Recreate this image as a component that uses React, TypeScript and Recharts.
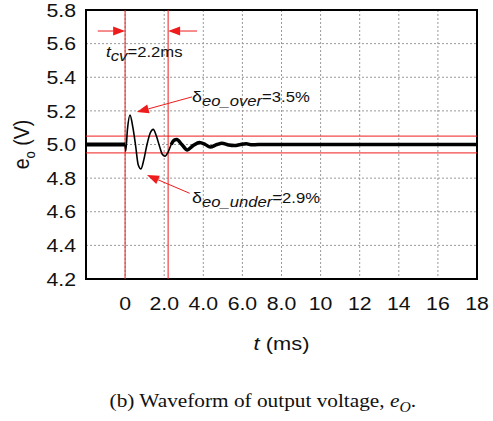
import {
  LineChart,
  Line,
  XAxis,
  YAxis,
  CartesianGrid,
  ReferenceLine,
  ReferenceArea,
  ReferenceDot,
} from "recharts";

// nominal output and the settling figures printed on the plot
const nominal = 5.0;
const overPct = 3.5;
const underPct = 2.9;
const tcv = 2.2;
const bandLow = 4.95;
const bandHigh = 5.05;

const peak = +(nominal * (1 + overPct / 100)).toFixed(3);
const trough = +(nominal * (1 - underPct / 100)).toFixed(3);

// steady state before the load step
const preT = [-2, 0];
const preV = [5.0, 5.0];

// first ringing cycles (thin trace)
const ringT = [0, 0.03, 0.12, 0.25, 0.4, 0.53, 0.67, 0.81, 0.96, 1.12, 1.29, 1.44, 1.6, 1.76, 1.91, 2.04, 2.2, 2.36, 2.5, 2.64];
const ringV = [5.0, 4.96, 5.09, peak, 5.1, 5.0, 4.88, trough, 4.91, 5.0, 5.07, 5.09, 5.05, 4.99, 4.94, 4.93, 4.955, 5.0, 5.025, 5.03];

// decaying tail back to steady state (thick trace)
const tailT = [2.36, 2.5, 2.64, 2.9, 3.18, 3.5, 3.8, 4.1, 4.35, 4.7, 4.95, 5.3, 5.6, 5.9, 6.2, 6.5, 6.8, 7.2, 18];
const tailV = [5.0, 5.025, 5.03, 5.0, 4.968, 4.995, 5.012, 5.0, 4.985, 5.0, 5.008, 4.997, 4.994, 5.0, 5.004, 4.998, 5.0, 5.0, 5.0];

const xTicks = [-2, 0, 2, 4, 6, 8, 10, 12, 14, 16, 18];
const yTicks = [4.2, 4.4, 4.6, 4.8, 5.0, 5.2, 5.4, 5.6, 5.8];

const zip = (t: number[], v: number[]) => t.map((x, i) => ({ t: x, v: v[i] }));
const preData = zip(preT, preV);
const ringData = zip(ringT, ringV);
const tailData = zip(tailT, tailV);

const RED = "#ee1c1c";
const FONT = "'Liberation Sans', Arial, sans-serif";
const SX = 1.15; // text in this figure is drawn a bit wide

const fmtX = (v: number) => (v < 0 ? "" : v === 0 ? "0" : v < 10 ? v.toFixed(1) : String(v));

function XTick({ x, y, payload }: any) {
  return (
    <g transform={`translate(${x},${y}) scale(${SX},1)`}>
      <text x={0} y={29.5} textAnchor="middle" fontSize={18.5} fontFamily={FONT} fill="#111">
        {fmtX(payload.value)}
      </text>
    </g>
  );
}

function YTick({ x, y, payload }: any) {
  return (
    <g transform={`translate(${x},${y}) scale(${SX},1)`}>
      <text x={0} y={0} dy="0.36em" textAnchor="end" fontSize={18.5} fontFamily={FONT} fill="#111">
        {payload.value.toFixed(1)}
      </text>
    </g>
  );
}

function Arrow({ x1, y1, x2, y2 }: any) {
  const dx = x2 - x1;
  const dy = y2 - y1;
  const len = Math.hypot(dx, dy) || 1;
  const ux = dx / len;
  const uy = dy / len;
  const hl = 12;
  const hw = 4.5;
  const bx = x2 - ux * hl;
  const by = y2 - uy * hl;
  const pts = `${x2},${y2} ${bx - uy * hw},${by + ux * hw} ${bx + uy * hw},${by - ux * hw}`;
  return (
    <g>
      <line x1={x1} y1={y1} x2={bx} y2={by} stroke={RED} strokeWidth={1} />
      <polygon points={pts} fill={RED} />
    </g>
  );
}

function noteShape(lead: string, sub: string, tail: string, leadItalic: boolean) {
  return ({ cx, cy }: any) => (
    <g transform={`translate(${cx},${cy}) scale(${SX},1)`}>
      <text x={0} y={0} fontSize={14.5} fontFamily={FONT} fill="#111">
        <tspan fontStyle={leadItalic ? "italic" : "normal"} fontSize={leadItalic ? 15 : 15.5}>
          {lead}
        </tspan>
        <tspan fontStyle="italic" dy={4}>
          {sub}
        </tspan>
        <tspan dy={-4}>{tail}</tspan>
      </text>
    </g>
  );
}

function XLabel({ viewBox }: any) {
  const cx = viewBox.x + viewBox.width / 2;
  return (
    <g transform={`translate(${cx},350) scale(${SX},1)`}>
      <text x={0} y={0} textAnchor="middle" fontSize={19} fontFamily={FONT} fill="#111">
        <tspan fontStyle="italic">t</tspan> (ms)
      </text>
    </g>
  );
}

function YLabel({ viewBox }: any) {
  const cy = viewBox.y + viewBox.height / 2;
  return (
    <g transform={`translate(29,${cy}) rotate(-90) scale(1,${SX})`}>
      <text x={0} y={0} textAnchor="middle" fontSize={19.5} fontFamily={FONT} fill="#111">
        e<tspan fontSize={13} dy={5}>o</tspan>
        <tspan dy={-5}> (V)</tspan>
      </text>
    </g>
  );
}

export default function App() {
  return (
    <div style={{ position: "absolute", left: 0, top: 0, width: 493, height: 421, background: "#fff" }}>
      <LineChart width={493} height={421} margin={{ top: 10, right: 16, left: 10, bottom: 102 }}>
        <CartesianGrid stroke="#999" strokeDasharray="2 2" strokeWidth={1} />
        <XAxis
          dataKey="t"
          type="number"
          domain={[-2, 18]}
          ticks={xTicks}
          interval={0}
          allowDataOverflow
          axisLine={false}
          tickLine={false}
          tickSize={0}
          tick={<XTick />}
          height={40}
          label={<XLabel />}
        />
        <YAxis
          type="number"
          domain={[4.2, 5.8]}
          ticks={yTicks}
          interval={0}
          allowDataOverflow
          axisLine={false}
          tickLine={false}
          tickSize={0}
          tickMargin={10}
          tick={<YTick />}
          width={76}
          label={<YLabel />}
        />
        <ReferenceLine y={bandHigh} stroke={RED} strokeWidth={1} />
        <ReferenceLine y={bandLow} stroke={RED} strokeWidth={1} />
        <ReferenceLine x={0} stroke={RED} strokeWidth={1} />
        <ReferenceLine x={tcv} stroke={RED} strokeWidth={1} />

        <Line data={preData} dataKey="v" type="linear" stroke="#000" strokeWidth={4} dot={false} isAnimationActive={false} />
        <Line data={tailData} dataKey="v" type="monotone" stroke="#000" strokeWidth={3.5} dot={false} isAnimationActive={false} />
        <Line data={ringData} dataKey="v" type="monotone" stroke="#000" strokeWidth={1.6} dot={false} isAnimationActive={false} />

        {/* t_cv dimension arrows */}
        <ReferenceLine segment={[{ x: -1.4, y: 5.675 }, { x: 0, y: 5.675 }]} shape={Arrow} />
        <ReferenceLine segment={[{ x: 3.68, y: 5.675 }, { x: tcv, y: 5.675 }]} shape={Arrow} />
        {/* overshoot / undershoot pointers */}
        <ReferenceLine segment={[{ x: 3.42, y: 5.283 }, { x: 0.6, y: 5.193 }]} shape={Arrow} />
        <ReferenceLine segment={[{ x: 3.3, y: 4.71 }, { x: 1.12, y: 4.818 }]} shape={Arrow} />

        <ReferenceDot x={-0.98} y={5.519} r={0} shape={noteShape("t", "cv", `=${tcv}ms`, true)} />
        <ReferenceDot x={3.42} y={5.25} r={0} shape={noteShape("δ", "eo_over", `=${overPct}%`, false)} />
        <ReferenceDot x={3.42} y={4.652} r={0} shape={noteShape("δ", "eo_under", `=${underPct}%`, false)} />

        <ReferenceArea x1={-2} x2={18} y1={4.2} y2={5.8} fill="none" stroke="#000" strokeWidth={2} />
      </LineChart>
      <div
        style={{
          position: "absolute",
          left: 0,
          width: 525,
          top: 390,
          textAlign: "center",
          fontFamily: "'Liberation Serif', 'Times New Roman', serif",
          fontSize: 19,
          color: "#111",
        }}
      >
        <span style={{ display: "inline-block", transform: "scaleX(1.12)" }}>
          (b) Waveform of output voltage, <i>e</i>
          <sub style={{ fontStyle: "italic", fontSize: 14 }}>O</sub>.
        </span>
      </div>
    </div>
  );
}
